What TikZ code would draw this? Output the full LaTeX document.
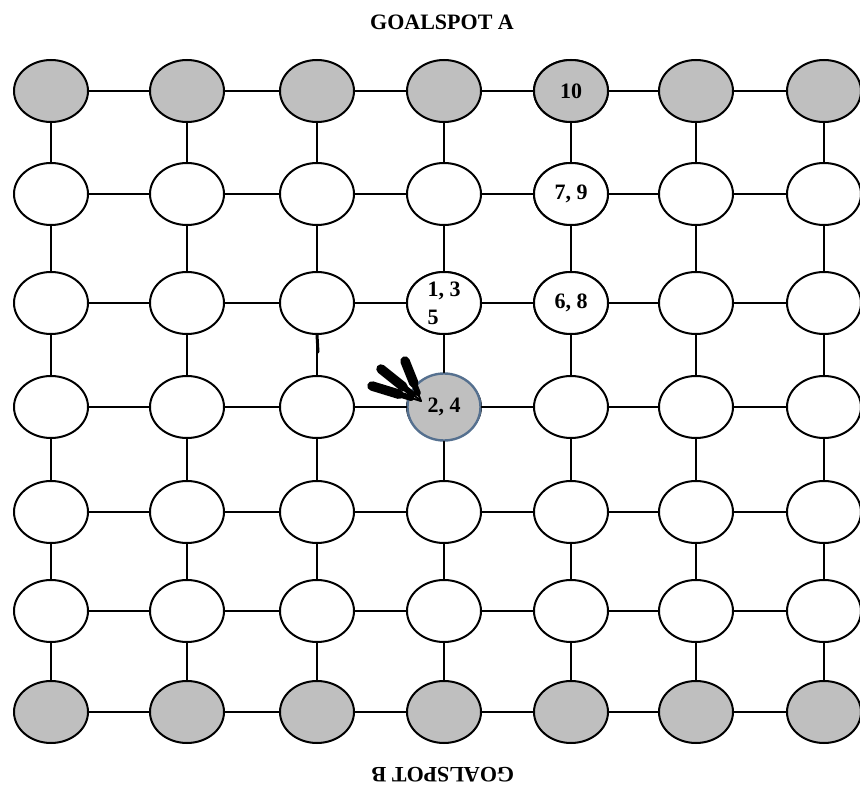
\documentclass[tikz,border=0pt]{standalone}
\usepackage{fontspec}
\setmainfont{Liberation Serif}
\usetikzlibrary{shapes.geometric,calc}
\definecolor{spotgray}{HTML}{BFBFBF}
\definecolor{ringblue}{HTML}{55708F}
\tikzset{
  every picture/.style={line join=round, line cap=round},
  spot/.style={ellipse, draw=black, line width=2pt, fill=white,
    minimum width=74pt, minimum height=62pt, inner sep=0pt,
    font=\fontsize{22}{28}\selectfont\bfseries},
  goal/.style={spot, fill=spotgray},
  here/.style={spot, fill=spotgray, draw=ringblue, line width=2.4pt,
    minimum width=73pt, minimum height=67pt},
  link/.style={line width=2pt},
  title/.style={font=\fontsize{22}{26}\selectfont\bfseries, inner sep=0pt},
}
\begin{document}
\begin{tikzpicture}[x=1pt,y=-1pt]
\useasboundingbox (0,0) rectangle (860,797);
% goal rows
\foreach \r/\y in {1/91,7/712}
  \foreach \c/\x in {1/51,2/187,3/317,4/444,5/571,6/696,7/824}
    \node[goal] (n-\r-\c) at (\x,\y) {};
% middle rows
\foreach \r/\y in {2/194,3/303,4/407,5/512,6/611}
  \foreach \c/\x in {1/51,2/187,3/317,4/444,5/571,6/696,7/824}
    \node[spot] (n-\r-\c) at (\x,\y) {};
% marked spots
\node[goal] (n-1-5) at (571,91) {10};
\node[spot] (n-2-5) at (571,194) {7, 9};
\node[spot,align=left] (n-3-4) at (444,303) {1, 3\\5};
\node[spot] (n-3-5) at (571,303) {6, 8};
\node[here] (n-4-4) at (444,407) {\raisebox{-3pt}{2, 4}};
% links
\foreach \r in {1,...,7}
  \foreach \c/\d in {1/2,2/3,3/4,4/5,5/6,6/7}{
    \draw[link] (n-\r-\c) -- (n-\r-\d);
    \draw[link] (n-\c-\r) -- (n-\d-\r);
  }
\coordinate (stub) at (318,352);
\draw[line width=3pt] (n-3-3.south) -- (stub);
% pointer
\coordinate (arrow-tip) at (421,401);
\coordinate (prong-1) at (372,386);
\coordinate (prong-2) at (381,369);
\coordinate (prong-3) at (405,361);
\foreach \i in {1,2,3}{
  \draw[line width=9.5pt] (prong-\i) -- ($(prong-\i)!0.55!(arrow-tip)$);
  \draw[line width=6pt] (prong-\i) -- ($(prong-\i)!0.8!(arrow-tip)$);
  \draw[line width=2pt] (prong-\i) -- (arrow-tip);
}
% titles
\node[title] (goal-a) at (442,22) {GOALSPOT A};
\node[title,rotate=180] (goal-b) at (443,775) {GOALSPOT B};
\end{tikzpicture}
\end{document}
